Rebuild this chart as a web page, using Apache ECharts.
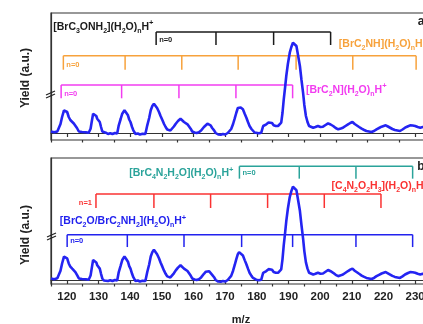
<!DOCTYPE html>
<html>
<head>
<meta charset="utf-8">
<script src="https://cdn.jsdelivr.net/npm/echarts@6/dist/echarts.min.js"></script>
<style>
  html, body { margin: 0; padding: 0; background: #fff; }
  #chart-spectrum-ctn { width: 423px; height: 324px; }
</style>
</head>
<body>
<div id="chart-spectrum-ctn"></div>
<script>
// spectrum: [m/z, yield]
var spectrum = [
  [115, 1.5], [116, 0.8], [117, 1.6], [117.6, 3], [118.0, 9], [118.5, 16], [119.1, 22.7], [119.6, 24.3],
  [120.1, 21], [120.6, 16], [121.1, 13], [121.7, 11], [122.2, 9.5], [122.7, 7.7], [123.2, 5], [123.8, 1.5],
  [124.3, 0.5], [124.8, 1], [125.4, 0], [126, 0.8], [126.9, 0.3], [127.5, 4.3], [127.9, 12], [128.3, 19.3],
  [128.9, 20.3], [129.3, 17], [129.6, 14.3], [130, 12.5], [130.4, 11], [130.8, 6], [131.2, 1.5], [131.7, -0.5],
  [132.3, 0.3], [133, -1], [133.7, -0.2], [134.4, -1], [135.2, 0], [135.9, -0.5], [136.4, 7.7], [137, 14],
  [137.5, 19.3], [138.2, 22.7], [138.7, 20.5], [139.3, 17.7], [139.7, 13.5], [140.1, 11], [140.6, 6], [141.0, 2.7],
  [141.7, -1], [142.4, -0.5], [143.1, -1.5], [143.9, -0.8], [144.8, -1], [145.4, 7.7], [146, 15], [146.5, 22.7],
  [147, 27], [147.5, 29.3], [148.0, 28.3], [148.5, 25], [149.1, 21], [149.6, 17], [150.2, 12.7], [150.7, 9],
  [151.2, 6], [151.7, 3.5], [152.2, 2], [152.7, 2.5], [153.3, 3.7], [153.8, 6.5], [154.4, 9.3], [155.1, 12],
  [155.9, 14.3], [156.4, 12.5], [157, 11], [157.5, 9.5], [158.1, 8.7], [158.6, 6.5], [159.1, 4.3], [159.6, 1.5],
  [160.3, 0.5], [161, 0], [161.7, 0.8], [162.4, 2.5], [163.3, 6], [163.9, 8], [164.4, 9.3], [164.9, 8.5],
  [165.4, 7.7], [165.9, 5], [166.5, 2.7], [167, 0], [167.8, -1.5], [168.6, -1.7], [169.3, -1], [170, -1.5],
  [170.8, 0], [171.4, 1.5], [171.9, 4], [172.5, 9], [173, 14.3], [173.5, 20], [174, 25], [174.4, 27],
  [174.9, 25.5], [175.6, 23.7], [176.2, 19], [176.7, 15.3], [177.2, 11], [177.7, 7], [178.3, 4], [178.8, 2],
  [179.3, 0.5], [179.8, 0.3], [180.6, -0.3], [181.4, 0.3], [182, 7], [182.5, 7.8], [183, 8.7], [183.7, 10.5],
  [184.3, 12], [184.8, 10], [185.3, 7.7], [186, 7], [186.7, 7], [187.2, 8], [187.7, 10.3], [188.1, 20],
  [188.5, 33.7], [188.9, 45], [189.3, 57], [189.8, 69], [190.4, 80.3], [190.9, 86], [191.4, 90.3], [191.9, 91],
  [192.5, 87], [193, 78], [193.6, 67], [194.1, 53], [194.6, 40.3], [195, 28], [195.5, 17], [196, 11],
  [196.5, 7], [197.1, 5.5], [197.8, 5.3], [198.5, 6], [199.3, 7], [200.1, 6], [200.9, 6.3], [201.7, 8],
  [202.5, 9.7], [203.3, 8.5], [204.1, 7], [204.9, 5], [205.7, 3.7], [206.5, 4.5], [207.2, 5.3], [208, 7],
  [208.8, 8.7], [209.5, 10], [210.2, 11], [210.9, 9], [211.5, 7.7], [212.3, 6], [213.1, 4.3], [213.9, 3],
  [214.6, 2], [215.4, 1.5], [216.2, 1], [217, 2], [217.8, 3.7], [218.6, 5], [219.4, 6.3], [220, 7],
  [220.7, 7.7], [221.4, 6.5], [222, 5.3], [222.8, 4], [223.6, 3], [224.4, 2.5], [225.2, 2], [226, 3.5],
  [226.8, 5.3], [227.6, 6.5], [228.4, 7.7], [229.2, 7.5], [230, 7], [230.8, 6], [231.6, 5.3], [232.4, 6],
  [233.2, 5.5], [234, 6], [235, 5.5]
];

var xTickLabels = [120, 130, 140, 150, 160, 170, 180, 190, 200, 210, 220, 230];
var xMinorTicks = [115, 125, 135, 145, 155, 165, 175, 185, 195, 205, 215, 225, 235];

// cluster ladders, m/z of each tick
var ladderBlack = [148.2, 167.1, 185.3, 203.3];
var ladderOrange = [118.9, 138.4, 156.3, 174.1, 192.4, 210.3, 230.3];
var ladderMagenta = [118.2, 137.3, 155.4, 173.4, 191.3];
var ladderTeal = [174.5, 193.4, 211.3, 229.2];
var ladderRed = [129.2, 147.5, 165.4, 183.4, 201.3, 219.2];
var ladderBlue = [120.1, 139.1, 157.0, 175.2, 191.3, 211.3, 229.2];

var FONT = 'Liberation Sans, Arial, sans-serif';
var AXIS_CLR = '#333';

var richSub = {
  s: { fontSize: 7, fontWeight: 'bold', fontFamily: FONT, verticalAlign: 'bottom', lineHeight: 15 },
  p: { fontSize: 7.5, fontWeight: 'bold', fontFamily: FONT, verticalAlign: 'top', lineHeight: 15 }
};

var topLadders = [
  { mz: ladderBlack, color: '#1a1a1a', level: 101, drop: 13, tag: 'n=0', tagVal: 93,
    label: '[BrC{s|3}ONH{s|2}](H{s|2}O){s|n}H{p|+}', labelAt: [115.7, 106.3] },
  { mz: ladderOrange, color: '#f7a23c', level: 77.3, drop: 14, tag: 'n=0', tagVal: 68,
    label: '[BrC{s|2}NH](H{s|2}O){s|n}H{p|+}', labelAt: [205.9, 89] },
  { mz: ladderMagenta, color: '#f23cf0', level: 48, drop: 13.3, tag: 'n=0', tagVal: 39,
    label: '[BrC{s|2}N](H{s|2}O){s|n}H{p|+}', labelAt: [195.5, 43.3] }
];

var bottomLadders = [
  { mz: ladderTeal, color: '#2aa39a', level: 110.1, drop: 12, tag: 'n=0', tagVal: 103.6,
    label: '[BrC{s|4}N{s|2}H{s|2}O](H{s|2}O){s|n}H{p|+}', labelAt: [139.7, 103.6] },
  { mz: ladderRed, color: '#fa3232', level: 83.3, drop: 13.6, tag: 'n=1', tagVal: 74.5, tagLeft: true,
    label: '[C{s|4}N{s|2}O{s|2}H{s|3}](H{s|2}O){s|n}H{p|+}', labelAt: [203.6, 90.7] },
  { mz: ladderBlue, color: '#2222ee', level: 43.9, drop: 12, tag: 'n=0', tagVal: 37.5,
    label: '[BrC{s|2}O/BrC{s|2}NH{s|2}](H{s|2}O){s|n}H{p|+}', labelAt: [117.8, 56.8] }
];

function ladderRender(lad) {
  return function (params, api) {
    var kids = [];
    var line = { stroke: lad.color, lineWidth: 1.5 };
    var a = api.coord([lad.mz[0], lad.level]);
    var b = api.coord([lad.mz[lad.mz.length - 1], lad.level]);
    kids.push({ type: 'line', shape: { x1: a[0], y1: a[1], x2: b[0], y2: b[1] }, style: line });
    lad.mz.forEach(function (m) {
      var p = api.coord([m, lad.level]);
      var q = api.coord([m, lad.level - lad.drop]);
      kids.push({ type: 'line', shape: { x1: p[0], y1: p[1], x2: q[0], y2: q[1] }, style: line });
    });
    var t = api.coord([lad.mz[0], lad.tagVal]);
    kids.push({
      type: 'text', x: lad.tagLeft ? t[0] - 4 : t[0] + 3, y: t[1],
      style: { text: lad.tag, fill: lad.color, fontSize: 7.5, fontWeight: 'bold', fontFamily: FONT,
        align: lad.tagLeft ? 'right' : 'left', verticalAlign: 'middle' }
    });
    var l = api.coord(lad.labelAt);
    kids.push({
      type: 'text', x: l[0], y: l[1],
      style: { text: lad.label, fill: lad.color, fontSize: 10.5, fontWeight: 'bold', fontFamily: FONT,
        align: 'left', verticalAlign: 'middle', rich: richSub }
    });
    return { type: 'group', children: kids };
  };
}

function ladderSeries(list, xIdx, yIdx) {
  return list.map(function (lad) {
    return {
      type: 'custom', xAxisIndex: xIdx, yAxisIndex: yIdx, z: 3, silent: true,
      renderItem: ladderRender(lad),
      data: [[lad.mz[0], lad.level]]
    };
  });
}

function mainX(grid, withLabels) {
  return {
    gridIndex: grid, type: 'value', min: 115, max: 235, interval: 5, position: 'bottom',
    axisLine: { lineStyle: { color: AXIS_CLR, width: 1.2 } },
    axisTick: { show: true, customValues: xTickLabels, length: 4, inside: false, lineStyle: { color: AXIS_CLR, width: 1.2 } },
    axisLabel: { show: withLabels, customValues: xTickLabels, margin: 7, color: '#222', fontSize: 11.5, fontWeight: 'bold', fontFamily: FONT },
    splitLine: { show: false },
    name: withLabels ? 'm/z' : '', nameLocation: 'middle', nameGap: 30,
    nameTextStyle: { color: '#222', fontSize: 11, fontWeight: 'bold', fontFamily: FONT }
  };
}

function minorX(grid) {
  return {
    gridIndex: grid, type: 'value', min: 115, max: 235, interval: 5, position: 'bottom',
    axisLine: { show: false },
    axisTick: { show: true, customValues: xMinorTicks, length: 2.5, lineStyle: { color: AXIS_CLR, width: 1.2 } },
    axisLabel: { show: false }, splitLine: { show: false }
  };
}

function plainY(grid, lo, hi) {
  return {
    gridIndex: grid, type: 'value', min: lo, max: hi,
    axisLine: { show: true, lineStyle: { color: AXIS_CLR, width: 1.2 } },
    axisTick: { show: false }, axisLabel: { show: false }, splitLine: { show: false }
  };
}

function breakMark(x, y) {
  return [
    { type: 'line', shape: { x1: x, y1: y + 2, x2: x + 9, y2: y - 2 }, style: { stroke: '#222', lineWidth: 1.3 }, z: 10 },
    { type: 'line', shape: { x1: x, y1: y + 5, x2: x + 9, y2: y + 1 }, style: { stroke: '#222', lineWidth: 1.3 }, z: 10 }
  ];
}

function sideText(txt, x, y, rot) {
  return {
    type: 'text', x: x, y: y, rotation: rot || 0, z: 10,
    style: { text: txt, fill: '#222', fontSize: 12, fontWeight: 'bold', fontFamily: FONT, align: 'center', verticalAlign: 'middle' }
  };
}

var chart = echarts.init(document.getElementById('chart-spectrum-ctn'));

var option = {
  animation: false,
  grid: [
    { left: 51, top: 13, width: 380, height: 127, show: true, borderColor: AXIS_CLR, borderWidth: 1.2, outerBoundsMode: 'none' },
    { left: 51, top: 158, width: 380, height: 126, show: true, borderColor: AXIS_CLR, borderWidth: 1.2, outerBoundsMode: 'none' }
  ],
  xAxis: [mainX(0, false), minorX(0), mainX(1, true), minorX(1)],
  yAxis: [plainY(0, -7, 120), plainY(1, -3.87, 118.1)],
  series: [
    { type: 'line', xAxisIndex: 0, yAxisIndex: 0, data: spectrum, showSymbol: false, z: 5,
      lineStyle: { color: '#2424f2', width: 2.6 } },
    { type: 'line', xAxisIndex: 2, yAxisIndex: 1, data: spectrum, showSymbol: false, z: 5,
      lineStyle: { color: '#2424f2', width: 2.6 } }
  ].concat(ladderSeries(topLadders, 0, 0), ladderSeries(bottomLadders, 2, 1)),
  graphic: [
    sideText('Yield (a.u.)', 26, 78, Math.PI / 2),
    sideText('Yield (a.u.)', 26, 235, Math.PI / 2),
    sideText('a', 421, 22),
    sideText('b', 421, 167)
  ].concat(breakMark(46, 93), breakMark(47, 235))
};

chart.setOption(option);
</script>
</body>
</html>
